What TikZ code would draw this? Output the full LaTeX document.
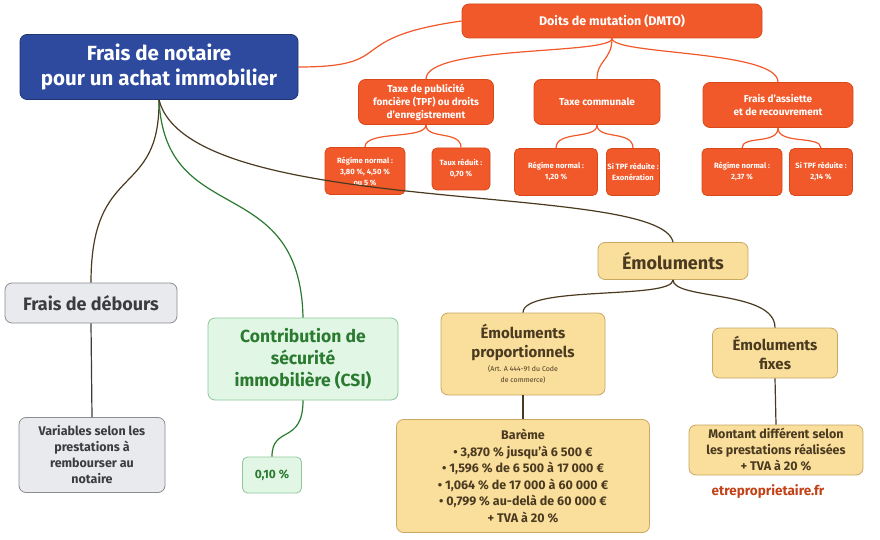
\documentclass[tikz,border=0pt]{standalone}
\usepackage{fontspec}
\setmainfont{Fira Sans}
\begin{document}
\begin{tikzpicture}[x=1pt,y=-1pt,
 box/.style={rounded corners=7pt,draw,line width=0.8pt,align=center,inner sep=2pt,font=\bfseries},
 org/.style={box,fill=orgc,draw=orgd,text=white},
 med/.style={org,font=\bfseries\fontsize{10}{13}\selectfont},
 sml/.style={org,font=\bfseries\fontsize{7.6}{11}\selectfont,rounded corners=5pt,inner sep=1pt},
 yel/.style={box,fill=yelc,draw=yeld,text=brn},
 gry/.style={box,fill=gryc,draw=gryd,text=txg},
 grn/.style={box,fill=grnc,draw=grnd,text=grnt},
 ol/.style={draw=orgc,line width=1.2pt},
 dl/.style={draw=brn,line width=1.2pt},
 gl/.style={draw=grnt,line width=1.2pt}]
\definecolor{orgc}{HTML}{F1592A}\definecolor{orgd}{HTML}{D84818}
\definecolor{yelc}{HTML}{F9DE9C}\definecolor{yeld}{HTML}{C9A862}
\definecolor{brn}{HTML}{4A3A20}
\definecolor{gryc}{HTML}{E8EAEE}\definecolor{gryd}{HTML}{8A8C90}\definecolor{txg}{HTML}{3A3C40}
\definecolor{grnc}{HTML}{E2F6E6}\definecolor{grnd}{HTML}{8CC898}\definecolor{grnt}{HTML}{2A7A30}
\definecolor{blu}{HTML}{2E4A9E}
\useasboundingbox (0,0) rectangle (880,540);
\fill[white] (0,0) rectangle (880,540);
\node[box,fill=blu,draw=blu!70!black,text=white,minimum width=278pt,minimum height=65pt,font=\bfseries\fontsize{20.5}{25}\selectfont] (main) at (159,67) {Frais de notaire\\pour un achat immobilier};
\node[org,minimum width=300pt,minimum height=34pt,font=\bfseries\fontsize{12.5}{14}\selectfont] (dmto) at (612,21) {Doits de mutation (DMTO)};
\node[med,minimum width=135pt,minimum height=45pt] (tpf) at (426,102) {Taxe de publicité\\foncière (TPF) ou droits\\d’enregistrement};
\node[med,minimum width=126pt,minimum height=45pt] (tc) at (597,102) {Taxe communale};
\node[med,minimum width=150pt,minimum height=45pt] (fa) at (778,105) {Frais d’assiette\\et de recouvrement};
\node[sml,minimum width=80pt,minimum height=47pt] (r1) at (365,171) {Régime normal :\\3,80 \%, 4,50 \%\\ou 5 \%};
\node[sml,minimum width=58pt,minimum height=42pt] (t1) at (461,169) {Taux réduit :\\0,70 \%};
\node[sml,minimum width=83pt,minimum height=47pt] (r2) at (556,172) {Régime normal :\\1,20 \%};
\node[sml,minimum width=53pt,minimum height=47pt] (s2) at (633,172) {Si TPF réduite :\\Exonération};
\node[sml,minimum width=80pt,minimum height=47pt] (r3) at (742,172) {Régime normal :\\2,37 \%};
\node[sml,minimum width=63pt,minimum height=47pt] (s3) at (821,172) {Si TPF réduite :\\2,14 \%};
\node[yel,minimum width=150pt,minimum height=37pt,font=\bfseries\fontsize{18}{21}\selectfont] (emo) at (673,261) {Émoluments};
\node[gry,minimum width=172pt,minimum height=40pt,font=\bfseries\fontsize{18}{21}\selectfont] (deb) at (91,303) {Frais de débours};
\node[grn,minimum width=190pt,minimum height=82pt,font=\bfseries\fontsize{17.5}{22}\selectfont] (csi) at (303,359) {Contribution de\\sécurité\\immobilière (CSI)};
\node[yel,minimum width=164pt,minimum height=82pt,font=\bfseries\fontsize{15}{19}\selectfont] (prop) at (523,354) {Émoluments\\proportionnels\\[-5pt]{\fontsize{7}{8}\selectfont\mdseries (Art. A 444-91 du Code}\\[-8pt]{\fontsize{7}{8}\selectfont\mdseries de commerce)}};
\node[yel,minimum width=125pt,minimum height=50pt,font=\bfseries\fontsize{15}{19}\selectfont] (fix) at (775,353) {Émoluments\\fixes};
\node[gry,minimum width=146pt,minimum height=75pt,font=\bfseries\fontsize{12.5}{16}\selectfont] (var) at (92,455) {Variables selon les\\prestations à\\rembourser au\\notaire};
\node[grn,minimum width=59pt,minimum height=36pt,rounded corners=5pt,font=\bfseries\fontsize{12}{14}\selectfont] (p10) at (272,475) {0,10 \%};
\node[yel,minimum width=253pt,minimum height=113pt,font=\bfseries\fontsize{12.5}{16.5}\selectfont] (bar) at (523,476) {Barème\\• 3,870 \% jusqu’à 6 500 €\\• 1,596 \% de 6 500 à 17 000 €\\• 1,064 \% de 17 000 à 60 000 €\\• 0,799 \% au-delà de 60 000 €\\+ TVA à 20 \%};
\node[yel,minimum width=174pt,minimum height=50pt,font=\bfseries\fontsize{12.5}{16}\selectfont] (mon) at (776,450) {Montant différent selon\\les prestations réalisées\\+ TVA à 20 \%};
\node[text=orgd!90!black,font=\bfseries\fontsize{13.5}{15}\selectfont] (site) at (768,492) {etreproprietaire.fr};
% connectors
\draw[ol] (main.east) .. controls (400,67) and (340,38) .. (dmto.west);
\draw[ol] (dmto.south) .. controls (612,55) and (426,45) .. (tpf.north);
\draw[ol] (dmto.south) .. controls (612,60) and (597,60) .. (tc.north);
\draw[ol] (dmto.south) .. controls (612,55) and (778,50) .. (fa.north);
\draw[ol] (tpf.south) .. controls (426,140) and (365,130) .. (r1.north);
\draw[ol] (tpf.south) .. controls (426,140) and (461,130) .. (t1.north);
\draw[ol] (tc.south) .. controls (597,140) and (556,130) .. (r2.north);
\draw[ol] (tc.south) .. controls (597,140) and (633,130) .. (s2.north);
\draw[ol] (fa.south) .. controls (778,145) and (742,135) .. (r3.north);
\draw[ol] (fa.south) .. controls (778,145) and (821,135) .. (s3.north);
\draw[dl] (main.south) .. controls (160,200) and (91,160) .. (deb.north);
\draw[gl] (main.south) .. controls (165,230) and (300,170) .. (csi.north);
\draw[dl] (main.south) .. controls (190,220) and (660,180) .. (emo.north);
\draw[dl] (emo.south) .. controls (673,300) and (523,285) .. (prop.north);
\draw[dl] (emo.south) .. controls (673,300) and (775,290) .. (fix.north);
\draw[dl] (prop.south) -- (bar.north);
\draw[dl] (fix.south) -- (mon.north);
\draw[draw=txg,line width=1.2pt] (deb.south) -- (var.north);
\draw[gl] (csi.south) .. controls (303,445) and (272,425) .. (p10.north);
\end{tikzpicture}
\end{document}
